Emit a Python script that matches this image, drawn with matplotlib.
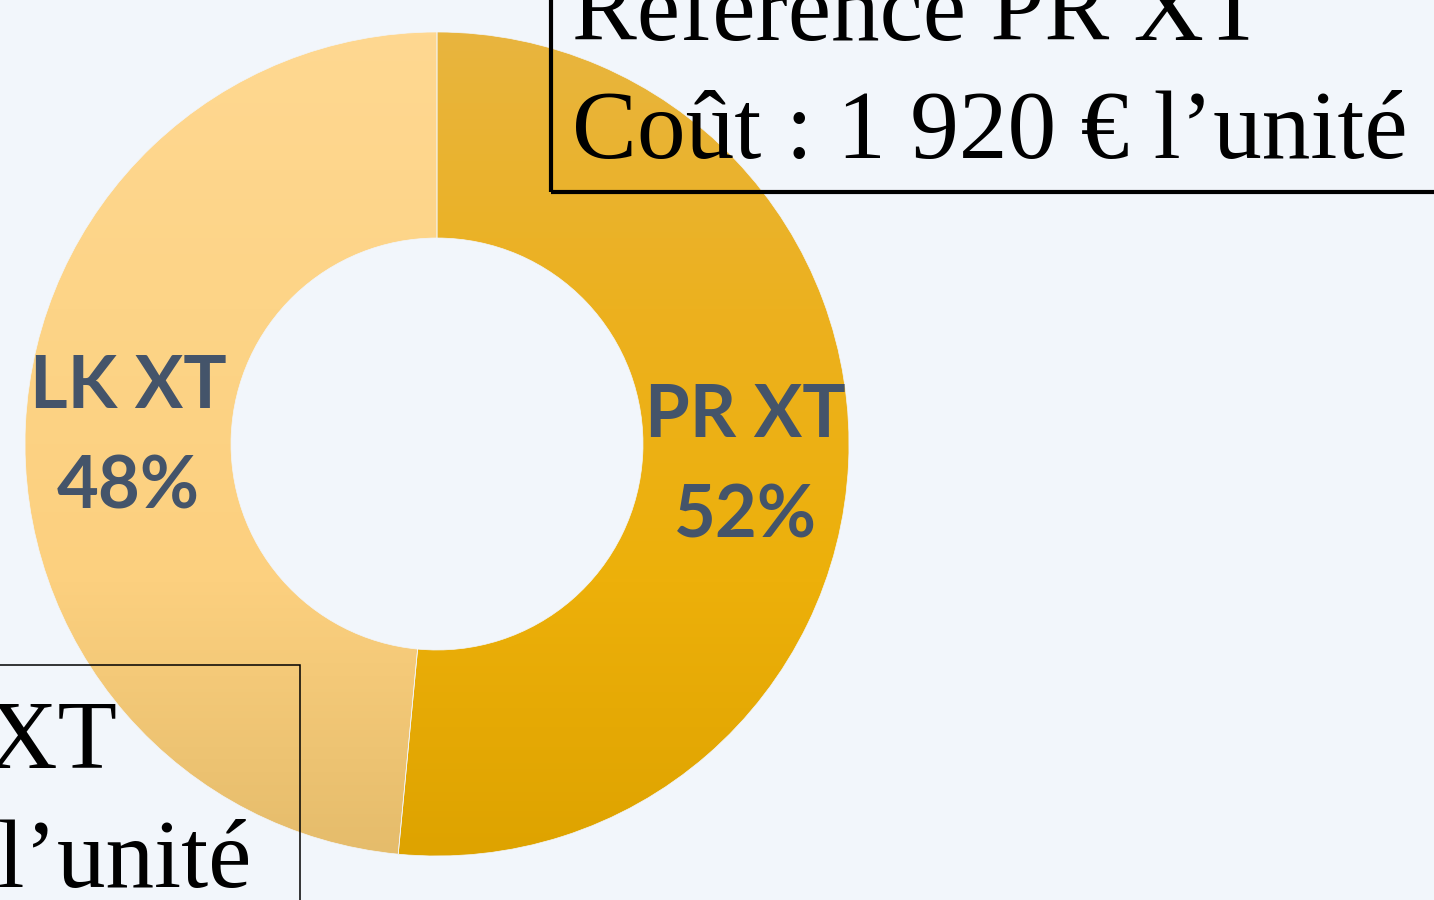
import numpy as np
import matplotlib
matplotlib.use('Agg')
import matplotlib.pyplot as plt
from matplotlib.colors import LinearSegmentedColormap
from matplotlib.patches import Rectangle
from matplotlib.transforms import ScaledTranslation

# data
categories = ['PR XT', 'LK XT']
shares = [51.5, 48.5]
gradients = [
    ['#E8B53F', '#ECB11F', '#EDB00A', '#DEA300'],   # PR XT, top -> bottom
    ['#FFD891', '#FDD487', '#FCD07F', '#E5BC6B'],   # LK XT
]
box_pr = ['Référence PR XT', 'Coût : 1 920 € l’unité']
box_lk = ['Référence LK XT', 'Coût : 1 770 € l’unité']

bg = '#F2F6FB'
W, H = 1434, 900

fig = plt.figure(figsize=(W / 100, H / 100), dpi=100, facecolor=bg)
ax = fig.add_axes([25 / W, 44 / H, 824 / W, 824 / H])
ax.set_facecolor(bg)

labels = [f'{c}\n{round(s)}%' for c, s in zip(categories, shares)]
wedges, texts = ax.pie(shares, labels=labels, startangle=90, counterclock=False,
                       labeldistance=0.75,
                       wedgeprops=dict(width=0.5, edgecolor=bg, linewidth=0.5),
                       textprops=dict(fontfamily='Lato', fontweight='bold',
                                      fontsize=52, color='#44546A'))

grad = np.linspace(0, 1, 256).reshape(-1, 1)
for w, cols in zip(wedges, gradients):
    cm = LinearSegmentedColormap.from_list('g', cols)
    w.set_facecolor('none')
    im = ax.imshow(grad, extent=(-1, 1, -1, 1), cmap=cm, origin='upper',
                   aspect='auto', zorder=w.get_zorder() - 0.1)
    im.set_clip_path(w)

# nudge labels a little lower, as in the reference
shift = ScaledTranslation(0, -0.08, fig.dpi_scale_trans)
for t in texts:
    t.set_ha('center')
    t.set_va('center')
    t.set_linespacing(1.62)
    t.set_zorder(5)
    t.set_transform(t.get_transform() + shift)

ax.set_xlim(-1, 1)
ax.set_ylim(-1, 1)
ax.set_aspect('equal')
ax.axis('off')

# text boxes (no fill, partly off the canvas)
fig.patches.append(Rectangle((551 / W, 1 - 192 / H), 1000 / W, 300 / H,
                             transform=fig.transFigure, fill=False,
                             edgecolor='black', linewidth=3, zorder=6))
fig.patches.append(Rectangle((-100 / W, -100 / H), 400 / W, (100 + 235) / H,
                             transform=fig.transFigure, fill=False,
                             edgecolor='black', linewidth=1.1, zorder=6))

serif = dict(fontfamily='Liberation Serif', fontsize=70, color='black', va='baseline')
fig.text(572 / W, 1 - 40 / H, box_pr[0], ha='left', **serif)
fig.text(572 / W, 1 - 158 / H, box_pr[1], ha='left', **serif)
fig.text(117 / W, 1 - 768 / H, box_lk[0], ha='right', **serif)
fig.text(251 / W, 1 - 887 / H, box_lk[1], ha='right', **serif)

plt.savefig('out.png', dpi=100, facecolor=bg)
